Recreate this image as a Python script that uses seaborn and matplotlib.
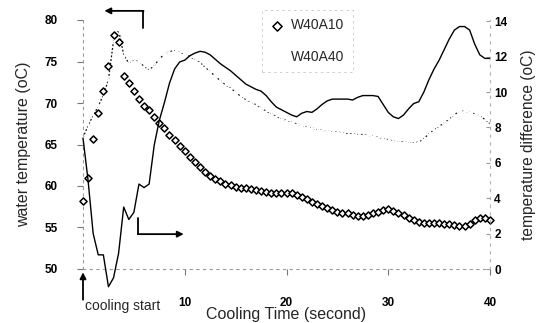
import numpy as np
import pandas as pd
import matplotlib
matplotlib.use("Agg")
import matplotlib.pyplot as plt
import seaborn as sns

# ---------------- data ----------------
time_s = [i * 0.5 for i in range(81)]

w40a10 = [58.2, 61.0, 65.7, 68.8, 71.4, 74.4, 78.2, 77.3, 73.3, 72.4,
          71.5, 70.5, 69.6, 69.2, 68.3, 67.6, 67.0, 66.2, 65.6, 64.8,
          64.2, 63.5, 62.9, 62.3, 61.7, 61.2, 60.9, 60.6, 60.3, 60.1,
          59.9, 59.8, 59.7, 59.6, 59.5, 59.4, 59.3, 59.2, 59.2, 59.1,
          59.1, 59.1, 58.9, 58.7, 58.4, 58.1, 57.8, 57.6, 57.3, 57.1,
          56.9, 56.8, 56.7, 56.5, 56.4, 56.4, 56.5, 56.7, 56.9, 57.1,
          57.2, 57.0, 56.8, 56.5, 56.2, 55.9, 55.7, 55.6, 55.5, 55.5,
          55.5, 55.4, 55.4, 55.3, 55.2, 55.2, 55.4, 55.9, 56.1, 56.1,
          55.9]

w40a40 = [65.8, 67.3, 68.5, 69.6, 71.0, 72.8, 77.5, 78.8, 75.8, 74.8,
          75.1, 75.0, 74.4, 74.0, 74.5, 75.3, 75.9, 76.2, 76.3, 76.1,
          75.9, 75.6, 75.2, 74.9, 74.3, 73.8, 73.2, 72.7, 72.2, 71.8,
          71.3, 70.8, 70.4, 70.1, 69.8, 69.4, 69.0, 68.7, 68.4, 68.1,
          67.9, 67.7, 67.5, 67.3, 67.1, 67.0, 66.8, 66.7, 66.6, 66.5,
          66.5, 66.4, 66.3, 66.3, 66.2, 66.2, 66.1, 66.0, 65.9, 65.7,
          65.6, 65.4, 65.3, 65.3, 65.2, 65.2, 65.3, 65.7, 66.3, 66.8,
          67.2, 67.6, 68.1, 68.6, 69.0, 69.0, 68.9, 68.7, 68.5, 68.0,
          67.5]

temp_diff = [7.4, 5.0, 2.0, 0.8, 0.8, -1.0, -0.5, 0.9, 3.5, 2.8,
             3.2, 4.8, 4.6, 4.8, 7.0, 8.4, 9.4, 10.5, 11.3, 11.7,
             11.8, 12.05, 12.2, 12.3, 12.25, 12.1, 11.85, 11.6, 11.4, 11.2,
             10.95, 10.7, 10.45, 10.3, 10.15, 10.05, 9.8, 9.45, 9.15, 9.0,
             8.85, 8.7, 8.6, 8.8, 8.9, 8.85, 9.05, 9.3, 9.5, 9.6,
             9.6, 9.6, 9.6, 9.55, 9.7, 9.8, 9.8, 9.8, 9.75, 9.3,
             8.85, 8.6, 8.5, 8.7, 9.05, 9.35, 9.45, 10.0, 10.7, 11.3,
             11.8, 12.4, 13.0, 13.5, 13.7, 13.7, 13.5, 12.7, 12.1, 11.9,
             11.9]

x_ticks = [10, 20, 30, 40]
left_ticks = [50, 55, 60, 65, 70, 75, 80]
right_ticks = [0, 2, 4, 6, 8, 10, 12, 14]
series_labels = ["W40A10", "W40A40"]

df = pd.DataFrame({"t": time_s, "a10": w40a10, "a40": w40a40, "diff": temp_diff})

# ---------------- style ----------------
sns.set_theme(style="white")
plt.rcParams["font.family"] = ["Liberation Sans", "DejaVu Sans"]

fig = plt.figure(figsize=(5.41, 3.23), dpi=100)
ax = fig.add_axes([83 / 541, 54 / 323, 407 / 541, 249 / 323])
ax2 = ax.twinx()

# W40A40 dotted line with small tick marks
sns.lineplot(data=df, x="t", y="a40", ax=ax, color="#111111", linewidth=0.9,
             linestyle=(0, (1.5, 1.5)), marker="+", markersize=4.5,
             markeredgewidth=1.0, label=series_labels[1], sort=False)
# W40A10 open diamonds
sns.scatterplot(data=df, x="t", y="a10", ax=ax, marker="D", s=13,
                facecolor="white", edgecolor="black", linewidth=1.1,
                label=series_labels[0], zorder=4, clip_on=False)
# temperature difference solid line (right axis)
sns.lineplot(data=df, x="t", y="diff", ax=ax2, color="black", linewidth=1.0,
             sort=False, clip_on=False, legend=False)

ax.set_xlim(0, 40)
ax.set_ylim(50, 80)
ax2.set_ylim(0, 14.07)
ax.set_xticks(x_ticks)
ax.set_yticks(left_ticks)
ax2.set_yticks(right_ticks)

for a in (ax, ax2):
    for s in a.spines.values():
        s.set_visible(False)
for side in ("left", "bottom"):
    sp = ax.spines[side]
    sp.set_visible(True)
    sp.set_color("#9a9a9a")
    sp.set_linewidth(0.8)
    sp.set_linestyle((0, (2, 4)))
sp = ax2.spines["right"]
sp.set_visible(True)
sp.set_color("#b0b0b0")
sp.set_linewidth(0.8)
sp.set_linestyle((0, (2, 5)))

ax.tick_params(axis="y", direction="out", length=4, width=0.8, color="#777777",
               pad=14, labelsize=8.5, labelcolor="black", left=True)
ax.tick_params(axis="x", direction="out", length=4, width=0.8, color="#777777",
               pad=16, labelsize=8.5, labelcolor="black", bottom=True)
ax2.tick_params(axis="y", direction="in", length=3, width=0.8, color="#999999",
                pad=3, labelsize=8.5, labelcolor="black", right=True)
for lab in ax.get_xticklabels() + ax.get_yticklabels() + ax2.get_yticklabels():
    lab.set_fontweight("bold")

ax.set_xlabel("Cooling Time (second)", fontsize=11.5, labelpad=-1)
ax.set_ylabel("water temperature (oC)", fontsize=11.5, labelpad=10)
ax2.set_ylabel("temperature difference (oC)", fontsize=11.2, labelpad=10)
ax.grid(False)
ax2.grid(False)

# legend
handles, labels = ax.get_legend_handles_labels()
order = [labels.index(series_labels[0]), labels.index(series_labels[1])]
leg = ax.legend([handles[i] for i in order], [labels[i] for i in order],
                loc="upper left", bbox_to_anchor=(0.44, 1.04),
                fontsize=10, frameon=True, handlelength=1.0,
                handletextpad=0.5, labelspacing=1.25, borderpad=0.6,
                borderaxespad=0.0, fancybox=False, markerscale=1.3)
leg.get_frame().set_edgecolor("#bbbbbb")
leg.get_frame().set_linewidth(0.6)
leg.get_frame().set_linestyle((0, (3, 4)))
leg.get_frame().set_facecolor("white")
hl = leg.legend_handles
hl[1].set_alpha(0.0)
leg.set_zorder(10)

# annotation arrows
arr_kw = dict(arrowstyle="-|>", color="black", lw=1.3, mutation_scale=9,
              shrinkA=0, shrinkB=0)
# left-pointing arrow (left axis)
ax.plot([5.9, 5.9], [81.1, 79.0], color="black", lw=1.3, clip_on=False)
ax.annotate("", xy=(2.1, 81.1), xytext=(5.95, 81.1), arrowprops=arr_kw,
            annotation_clip=False)
# right-pointing arrow (right axis)
ax.plot([5.45, 5.45], [56.1, 54.2], color="black", lw=1.3, clip_on=False)
ax.annotate("", xy=(9.9, 54.2), xytext=(5.4, 54.2), arrowprops=arr_kw,
            annotation_clip=False)
# cooling start
ax.annotate("", xy=(0, 49.6), xytext=(0, 46.3), arrowprops=arr_kw,
            annotation_clip=False)
ax.text(0.15, 45.5, "cooling start", fontsize=10, ha="left", va="center",
        clip_on=False)

fig.savefig("out.png", dpi=100)
